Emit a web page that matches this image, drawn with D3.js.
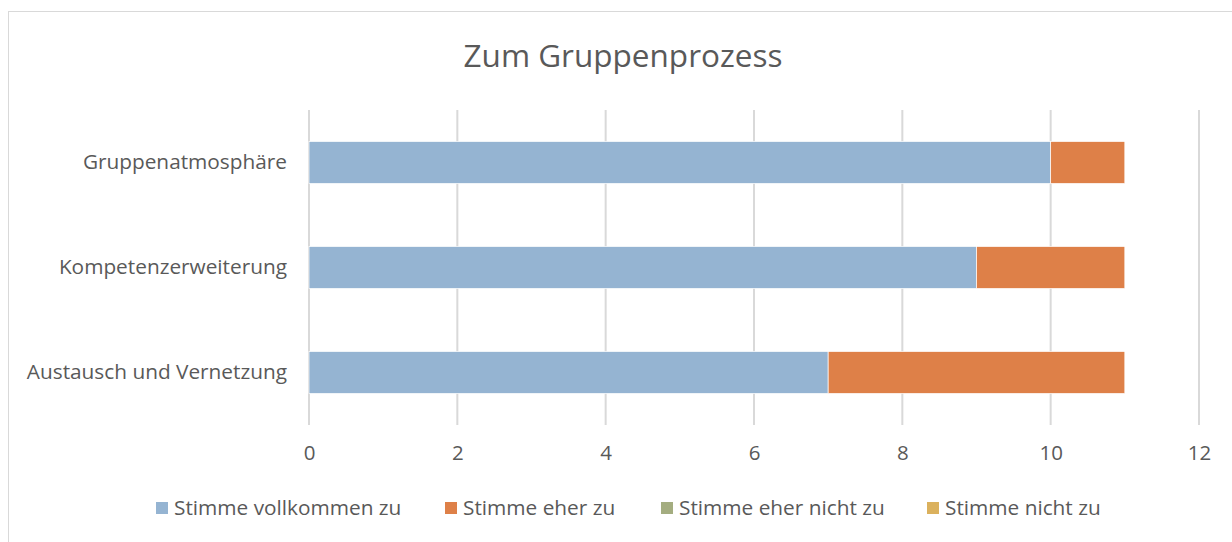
<!DOCTYPE html>
<html>
<head>
<meta charset="utf-8">
<script src="https://cdn.jsdelivr.net/npm/d3@7"></script>
<style>
  body { margin: 0; background: #fff; }
  svg { display: block; font-family: "Open Sans", sans-serif; }
</style>
</head>
<body>
<div id="chart"></div>
<script>
var categories = ["Gruppenatmosphäre", "Kompetenzerweiterung", "Austausch und Vernetzung"];
var seriesNames = ["Stimme vollkommen zu", "Stimme eher zu", "Stimme eher nicht zu", "Stimme nicht zu"];
var vollkommen = [10, 9, 7];
var eherZu = [1, 2, 4];
var eherNicht = [0, 0, 0];
var nichtZu = [0, 0, 0];
var xTicks = [0, 2, 4, 6, 8, 10, 12];
var colors = ["#95b4d2", "#de8048", "#a4ad80", "#dbb15d"];

var W = 1232, H = 542;
var svg = d3.select("#chart").append("svg").attr("width", W).attr("height", H);

// chart frame
svg.append("rect").attr("x", 8.5).attr("y", 11.5).attr("width", W + 10).attr("height", H + 10)
  .attr("fill", "#fff").attr("stroke", "#d9d9d9");

svg.append("text").attr("x", 623).attr("y", 67).attr("text-anchor", "middle")
  .attr("fill", "#595959").style("font-size", "31.5px").text("Zum Gruppenprozess");

var x = d3.scaleLinear().domain([0, 12]).range([309, 1199]);
var y = d3.scaleBand().domain(categories).range([110, 425]).paddingInner(0.6).paddingOuter(0.3);

// gridlines
svg.append("g").selectAll("line").data(xTicks).join("line")
  .attr("x1", function(d) { return x(d); }).attr("x2", function(d) { return x(d); })
  .attr("y1", 110).attr("y2", 425)
  .attr("stroke", "#d9d9d9").attr("stroke-width", 2);

var rows = categories.map(function(c, i) {
  return { cat: c, v0: vollkommen[i], v1: eherZu[i], v2: eherNicht[i], v3: nichtZu[i] };
});
var stack = d3.stack().keys(["v0", "v1", "v2", "v3"])(rows);

svg.append("g").selectAll("g").data(stack).join("g")
  .attr("fill", function(d, i) { return colors[i]; })
  .selectAll("rect").data(function(d) { return d; }).join("rect")
  .attr("x", function(d) { return x(d[0]); })
  .attr("width", function(d) { return x(d[1]) - x(d[0]); })
  .attr("y", function(d) { return y(d.data.cat); })
  .attr("height", y.bandwidth())
  .attr("stroke", "#fff").attr("stroke-width", 0.7)
  .attr("display", function(d) { return d[1] - d[0] > 0 ? null : "none"; });

// axes
var xAxis = svg.append("g").attr("transform", "translate(0,425)")
  .call(d3.axisBottom(x).tickValues(xTicks).tickSize(0).tickPadding(20));
xAxis.select(".domain").remove();
xAxis.selectAll("text").attr("fill", "#595959").style("font-size", "20.5px").style("font-family", "'Open Sans', sans-serif");

var yAxis = svg.append("g").attr("transform", "translate(309,0)")
  .call(d3.axisLeft(y).tickSize(0).tickPadding(22));
yAxis.select(".domain").remove();
yAxis.selectAll("text").attr("fill", "#595959").style("font-size", "20.8px").style("font-family", "'Open Sans', sans-serif");

// legend
var legendX = [156, 445, 661, 927];
var lg = svg.append("g").selectAll("g").data(seriesNames).join("g")
  .attr("transform", function(d, i) { return "translate(" + legendX[i] + ",502)"; });
lg.append("rect").attr("width", 12).attr("height", 12).attr("fill", function(d, i) { return colors[i]; });
lg.append("text").attr("x", 18).attr("y", 6).attr("dy", "0.35em")
  .attr("fill", "#595959").style("font-size", "20.8px").text(function(d) { return d; });
</script>
</body>
</html>
